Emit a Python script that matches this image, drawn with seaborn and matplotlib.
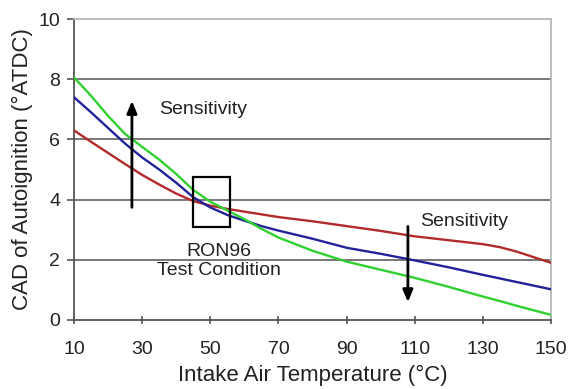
import matplotlib
matplotlib.use("Agg")
import matplotlib.pyplot as plt
from matplotlib.patches import Rectangle
import seaborn as sns
import pandas as pd

# Intake air temperature (°C) at which each curve is sampled
temperature = [10, 15, 20, 25, 30, 35, 40, 45, 50, 55, 60, 65, 70, 80, 90, 100, 110, 120, 130, 135, 140, 150]

# Crank angle of autoignition (°ATDC) for three fuels of rising sensitivity
low_sensitivity = [6.30, 5.92, 5.55, 5.18, 4.82, 4.50, 4.20, 3.95, 3.80, 3.69, 3.60, 3.51, 3.42, 3.28, 3.12, 2.96, 2.78, 2.65, 2.52, 2.42, 2.27, 1.90]
mid_sensitivity = [7.40, 6.90, 6.38, 5.86, 5.40, 5.00, 4.56, 4.08, 3.74, 3.49, 3.30, 3.12, 2.97, 2.70, 2.40, 2.20, 1.98, 1.75, 1.50, 1.38, 1.26, 1.02]
high_sensitivity = [8.06, 7.45, 6.78, 6.18, 5.75, 5.33, 4.85, 4.32, 3.93, 3.64, 3.35, 3.03, 2.74, 2.30, 1.94, 1.67, 1.40, 1.10, 0.78, 0.63, 0.47, 0.17]

series_names = ["low", "mid", "high"]
series_colors = ["#b22a2a", "#22229a", "#2fd02f"]

x_ticks = [10, 30, 50, 70, 90, 110, 130, 150]
y_ticks = [0, 2, 4, 6, 8, 10]

frame = pd.DataFrame({
    "temperature": temperature * 3,
    "cad": low_sensitivity + mid_sensitivity + high_sensitivity,
    "fuel": [n for n in series_names for _ in temperature],
})

sns.set_theme(style="white")
plt.rcParams["font.family"] = ["Liberation Sans", "DejaVu Sans"]

fig = plt.figure(figsize=(5.7, 3.89), dpi=100)
ax = fig.add_axes([74 / 570, 69 / 389, 477 / 570, 301 / 389])

# horizontal reference lines behind the curves
for y in [2, 4, 6, 8]:
    ax.axhline(y, color="#777777", lw=1.4, zorder=1)

sns.lineplot(data=frame, x="temperature", y="cad", hue="fuel",
             palette=dict(zip(series_names, series_colors)),
             linewidth=1.7, legend=False, ax=ax, zorder=3)

ax.set_xlim(10, 150)
ax.set_ylim(0, 10)
ax.set_xticks(x_ticks)
ax.set_yticks(y_ticks)

ax.set_xlabel("Intake Air Temperature (°C)", fontsize=16, color="#222222", labelpad=5)
ax.set_ylabel("CAD of Autoignition (°ATDC)", fontsize=16, color="#222222", labelpad=4)

ax.tick_params(axis="x", direction="inout", length=6, width=1.2, color="#555555",
               labelsize=14, labelcolor="#222222", pad=12, bottom=True)
ax.tick_params(axis="y", direction="out", length=5, width=1.2, color="#555555",
               labelsize=14, labelcolor="#222222", pad=5, left=True)

for side in ["left", "bottom"]:
    ax.spines[side].set_color("#555555")
    ax.spines[side].set_linewidth(1.3)
for side in ["top", "right"]:
    ax.spines[side].set_color("#b8b8b8")
    ax.spines[side].set_linewidth(1.3)

# sensitivity arrows
head = "-|>,head_length=0.6,head_width=0.25"
ax.annotate("", xy=(27, 7.37), xytext=(27, 3.65),
            arrowprops=dict(arrowstyle=head, color="black", lw=2), zorder=4)
ax.annotate("", xy=(108, 0.5), xytext=(108, 3.2),
            arrowprops=dict(arrowstyle=head, color="black", lw=2), zorder=4)

ax.text(35, 7.0, "Sensitivity", fontsize=14, color="#222222", va="center", ha="left")
ax.text(111.6, 3.27, "Sensitivity", fontsize=14, color="#222222", va="center", ha="left")

# RON96 test condition window
ax.add_patch(Rectangle((45, 3.08), 10.7, 1.68, fill=False, edgecolor="black", lw=1.6, zorder=4))
ax.text(52.5, 1.96, "RON96\nTest Condition", fontsize=14, color="#222222",
        ha="center", va="center", multialignment="center")

fig.savefig("out.png", dpi=100, facecolor="white")
